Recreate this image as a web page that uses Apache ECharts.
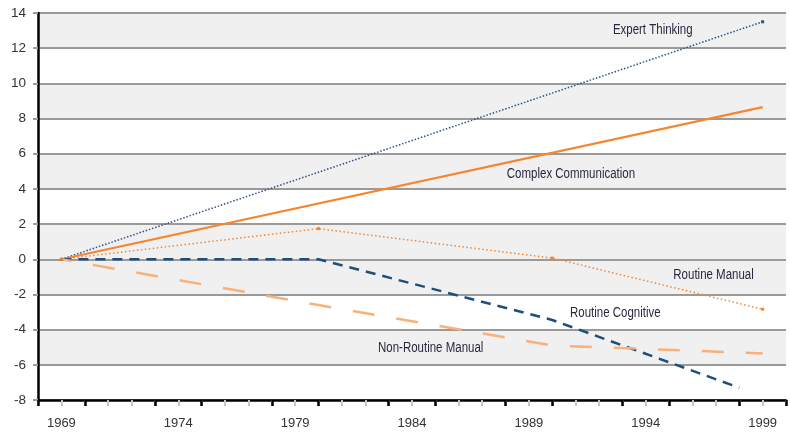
<!DOCTYPE html>
<html>
<head>
<meta charset="utf-8">
<script src="https://cdn.jsdelivr.net/npm/echarts@6/dist/echarts.min.js"></script>
<style>
html,body{margin:0;padding:0;background:#fff;}
#c{width:790px;height:432px;}
</style>
</head>
<body>
<div id="c"></div>
<script>
// ---- data ----
const xLabelYears = [1969, 1974, 1979, 1984, 1989, 1994, 1999];
const majorTickYears = [1968, 1970, 1973, 1975, 1978, 1980, 1983, 1985, 1988, 1990, 1993, 1995, 1998, 2000];
const seriesNames = ['Expert Thinking', 'Complex Communication', 'Routine Manual', 'Routine Cognitive', 'Non-Routine Manual'];
const expertThinking = [[1969, 0], [1999, 13.5]];
const complexCommunication = [[1969, 0], [1999, 8.65]];
const routineManual = [[1969, 0], [1980, 1.74], [1990, 0.07], [1999, -2.84]];
const routineCognitive = [[1969, 0], [1980, 0], [1990, -3.45], [1998, -7.3]];
const nonRoutineManual = [[1969, 0], [1980, -2.6], [1990, -4.9], [1999, -5.35]];

const FONT = '"Liberation Sans", Arial, sans-serif';
const TXT = '#2e2640';
const W = '#ffffff', G = '#f0f0f0';

const chart = echarts.init(document.getElementById('c'), null, { renderer: 'canvas' });
chart.setOption({
  animation: false,
  grid: { left: 38, right: 4, top: 13, bottom: 32 },
  xAxis: [{
    type: 'value', min: 1968, max: 2000, interval: 1,
    axisLine: { show: true, onZero: false, lineStyle: { color: '#000', width: 2.5 } },
    axisTick: { show: true, length: 6, lineStyle: { color: '#c8c8c8', width: 2 } },
    axisLabel: { customValues: xLabelYears, formatter: v => String(v), color: '#333', fontFamily: FONT, fontSize: 13, margin: 17 },
    splitLine: { show: false }
  }, {
    type: 'value', min: 1968, max: 2000, position: 'bottom', gridIndex: 0,
    axisLine: { show: false, onZero: false },
    axisTick: { show: true, length: 6, customValues: majorTickYears, lineStyle: { color: '#000', width: 2.5 } },
    axisLabel: { show: false },
    splitLine: { show: false }
  }],
  yAxis: {
    type: 'value', min: -8, max: 14, interval: 2,
    axisLine: { show: true, onZero: false, lineStyle: { color: '#000', width: 2.5 } },
    axisTick: { show: true, length: 5, lineStyle: { color: '#9a9a9a', width: 2 } },
    axisLabel: { color: '#333', fontFamily: FONT, fontSize: 13.5, margin: 12 },
    splitLine: { show: true, lineStyle: { color: '#9a9a9a', width: 2 } },
    splitArea: { show: true, areaStyle: { color: [W, G, W, G, G, W, G, W, G, W, G] } }
  },
  series: [
    {
      name: seriesNames[0], type: 'line', data: expertThinking,
      symbol: 'rect', symbolSize: 3, showSymbol: true,
      itemStyle: { color: '#2f4f86' },
      lineStyle: { color: '#2f4f86', width: 1.5, type: [1.5, 1.8] }
    },
    {
      name: seriesNames[1], type: 'line', data: complexCommunication,
      symbol: 'none',
      lineStyle: { color: '#f5862f', width: 2.2, type: 'solid' }
    },
    {
      name: seriesNames[2], type: 'line', data: routineManual,
      symbol: 'rect', symbolSize: 3, showSymbol: true,
      itemStyle: { color: '#f5862f' },
      lineStyle: { color: '#f5862f', width: 1.5, type: [1.5, 2.5] }
    },
    {
      name: seriesNames[3], type: 'line', data: routineCognitive,
      symbol: 'none',
      lineStyle: { color: '#1f4e7a', width: 2.5, type: [10, 7] }
    },
    {
      name: seriesNames[4], type: 'line', data: nonRoutineManual,
      symbol: 'none',
      lineStyle: { color: '#f9b07a', width: 2.5, type: [22, 22], dashOffset: 12 }
    }
  ]
});

// series name annotations, placed in data space through the chart's own scales
const notePlaces = [[1994.3, 13.0], [1990.8, 4.85], [1996.9, -0.89], [1992.7, -3.05], [1984.8, -5.04]];
chart.setOption({
  graphic: seriesNames.map((name, i) => {
    const p = chart.convertToPixel({ gridIndex: 0 }, notePlaces[i]);
    return {
      type: 'text', x: p[0], y: p[1], scaleX: 0.82, z: 100,
      style: { text: name, fill: TXT, font: '14px ' + FONT, align: 'center', verticalAlign: 'middle' }
    };
  })
});
</script>
</body>
</html>
